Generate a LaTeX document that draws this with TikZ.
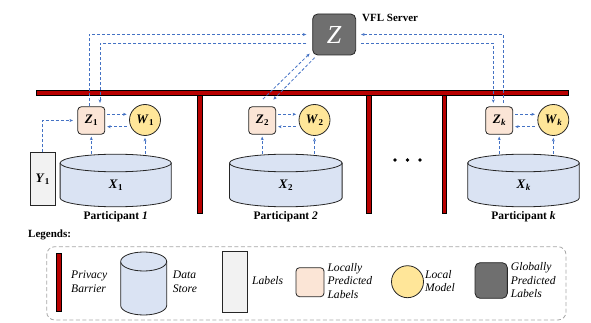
\documentclass[tikz,border=0pt]{standalone}
\usepackage{fontspec}
\setmainfont{Liberation Serif}
\usetikzlibrary{arrows.meta,calc}

\definecolor{barred}{HTML}{B80000}
\definecolor{flowblue}{HTML}{4472C4}
\definecolor{peach}{HTML}{FBE5D6}
\definecolor{modelyellow}{HTML}{FFE699}
\definecolor{storeblue}{HTML}{DAE3F3}
\definecolor{labelgray}{HTML}{F2F2F2}
\definecolor{servergray}{HTML}{6F6F6F}
\definecolor{edgegray}{HTML}{262626}
\definecolor{legendgray}{HTML}{A6A6A6}

% bold italic variable with a bold subscript
\newcommand{\bvar}[2]{\textbf{\textit{#1}}\kern0.2pt\raisebox{-0.35ex}{\fontsize{9}{9}\selectfont\textbf{#2}}}

% data store drawn as a cylinder: name, cx, top-centre y, bottom-centre y, rx, ry
\newcommand{\storecyl}[6]{%
  \fill[storeblue] (#2-#5,-#3) -- (#2-#5,-#4)
    arc[start angle=180,end angle=360,x radius=#5pt,y radius=#6pt] -- (#2+#5,-#3) -- cycle;
  \draw[edgegray,line width=0.8pt] (#2-#5,-#3) -- (#2-#5,-#4)
    arc[start angle=180,end angle=360,x radius=#5pt,y radius=#6pt] -- (#2+#5,-#3);
  \draw[edgegray,line width=0.8pt,fill=storeblue] (#2,-#3) ellipse[x radius=#5pt,y radius=#6pt];
  \coordinate (#1top) at (#2,-#3+#6);
}

\begin{document}
\begin{tikzpicture}[x=1pt,y=1pt,
  barrier/.style={fill=barred,draw=black,line width=0.5pt},
  flowline/.style={draw=flowblue,line width=0.8pt,dash pattern=on 3pt off 2pt},
  flow/.style={flowline,-{Stealth[length=3.5pt,width=3pt]}},
  predbox/.style={rectangle,rounded corners=3.5pt,fill=peach,draw=edgegray,line width=0.8pt,
    minimum width=27pt,minimum height=27.5pt,inner sep=0,font=\fontsize{13}{13}\selectfont},
  modelnode/.style={circle,fill=modelyellow,draw=edgegray,line width=0.8pt,
    minimum size=31pt,inner sep=0,font=\fontsize{13}{13}\selectfont},
  labelbox/.style={rectangle,fill=labelgray,draw=edgegray,line width=0.8pt,inner sep=0},
  serverbox/.style={rectangle,rounded corners=5pt,fill=servergray,draw=edgegray,line width=0.8pt,
    minimum width=43pt,minimum height=41pt,inner sep=0,text=white},
  partlabel/.style={inner sep=0,font=\fontsize{11.5}{13}\selectfont\bfseries},
  varlabel/.style={inner sep=0,font=\fontsize{13}{13}\selectfont},
  legtext/.style={anchor=west,inner sep=0,align=left,font=\fontsize{11.6}{13.5}\selectfont\itshape},
  legframe/.style={draw=legendgray,line width=0.8pt,dash pattern=on 4pt off 2.5pt,rounded corners=8pt},
  dot/.style={circle,fill=black,inner sep=0,minimum size=3.8pt}]
\useasboundingbox (0,0) rectangle (591,-323);

% ---------- privacy barriers ----------
\draw[barrier] (197.7,-92) rectangle (202.3,-213);
\draw[barrier] (366.7,-92) rectangle (371.3,-213);
\draw[barrier] (442,-92) rectangle (446.6,-213);
\draw[barrier] (36,-90) rectangle (568,-95);

% ---------- VFL server ----------
\node[serverbox] (Srv) at (334.2,-34.5) {\fontsize{26}{26}\selectfont\itshape Z};
\node[anchor=west,inner sep=0,font=\fontsize{11}{13}\selectfont\bfseries] (SrvName) at (362,-18) {VFL Server};

% ---------- participant 1 ----------
\storecyl{X1}{115.7}{163}{198}{55.6}{8.8}
\node[varlabel] (X1) at (115.7,-185) {\bvar{X}{1}};
\node[labelbox,minimum width=25pt,minimum height=52.3pt] (Y1) at (42.5,-178.9) {};
\node[varlabel] (Y1t) at (Y1) {\bvar{Y}{1}};
\node[predbox] (Z1) at (91.3,-120.5) {\bvar{Z}{1}};
\node[modelnode] (W1) at (145,-120) {\bvar{W}{1}};
\node[partlabel] (P1) at (115.7,-217) {Participant \textit{1}};

% ---------- participant 2 ----------
\storecyl{X2}{285.8}{163}{198}{56.3}{8.8}
\node[varlabel] (X2) at (285.8,-185) {\bvar{X}{2}};
\node[predbox] (Z2) at (262.2,-120.5) {\bvar{Z}{2}};
\node[modelnode] (W2) at (314.5,-120) {\bvar{W}{2}};
\node[partlabel] (P2) at (285.8,-217) {Participant \textit{2}};

% ---------- participant k ----------
\storecyl{Xk}{523.5}{163}{198}{55.8}{8.8}
\node[varlabel] (Xk) at (523.5,-185) {\bvar{X}{\textit{k}}};
\node[predbox] (Zk) at (499.2,-120.5) {\bvar{Z}{\textit{k}}};
\node[modelnode] (Wk) at (553.3,-120) {\bvar{W}{\textit{k}}};
\node[partlabel] (Pk) at (523.5,-217) {Participant \textit{k}};

% ellipsis between participants
\node[dot] (d1) at (395,-160) {};
\node[dot] (d2) at (407.5,-160) {};
\node[dot] (d3) at (420,-160) {};

% ---------- local flows ----------
\foreach \p in {1,2,k}{
  \draw[flow,shorten >=2pt] (Z\p |- X\p top) -- (Z\p.south);
  \draw[flow,shorten >=2pt] (W\p |- X\p top) -- (W\p.south);
  \draw[flow,shorten <=2pt,shorten >=2.5pt] ([yshift=6.2pt]Z\p.east) -- ([yshift=6.2pt]Z\p.east -| W\p.west);
  \draw[flow,shorten <=2.5pt,shorten >=2pt] ([yshift=-6.2pt]Z\p.east -| W\p.west) -- ([yshift=-6.2pt]Z\p.east);
}
\draw[flow,shorten >=4.5pt] (Y1.north) |- (Z1.west);

% ---------- exchanges with the server ----------
\draw[flow,shorten >=6pt] ([xshift=-2pt]Z1.north) |- (Srv.west);
\draw[flow,shorten <=6pt,shorten >=3.5pt] ([yshift=-9pt]Srv.west) -| ([xshift=8.7pt]Z1.north);
\draw[flow,shorten <=3.5pt,shorten >=5pt] ([xshift=4.1pt]Zk.north) |- (Srv.east);
\draw[flow,shorten <=5pt,shorten >=3.5pt] ([yshift=-9pt]Srv.east) -| ([xshift=-5.9pt]Zk.north);
\draw[flow] ([shift={(0.8pt,7.3pt)}]Z2.north) -- ([shift={(-2.7pt,1.7pt)}]Srv.south west);
\draw[flow] ([shift={(2.3pt,-2.3pt)}]Srv.south west) -- ([shift={(-2.7pt,6.8pt)}]Z2.north east);

% ---------- legend ----------
\node[anchor=west,inner sep=0,font=\fontsize{11}{13}\selectfont\bfseries] (LegTitle) at (28,-235) {Legends:};
\draw[legframe] (46.7,-246.7) rectangle (566,-320);

\draw[barrier] (56,-253.3) rectangle (61,-311.7);
\node[legtext] (LBar) at (71,-281.7) {Privacy\\Barrier};

\storecyl{LS}{143.7}{261.5}{305.5}{23}{9.5}
\node[legtext] (LStore) at (172.7,-281.7) {Data\\Store};

\node[labelbox,minimum width=25.4pt,minimum height=60.6pt] (LLab) at (235,-282) {};
\node[legtext] (LLabT) at (252,-281) {Labels};

\node[predbox,minimum width=28pt,minimum height=29pt] (LPred) at (310,-282.2) {};
\node[legtext] (LPredT) at (327.3,-280.6) {Locally\\Predicted\\Labels};

\node[modelnode,minimum size=32pt] (LModel) at (407.5,-281.7) {};
\node[legtext] (LModelT) at (425,-281) {Local\\Model};

\node[serverbox,minimum width=32.3pt,minimum height=35.6pt] (LGlob) at (491.2,-280.5) {};
\node[legtext] (LGlobT) at (510.7,-280.5) {Globally\\Predicted\\Labels};
\end{tikzpicture}
\end{document}
